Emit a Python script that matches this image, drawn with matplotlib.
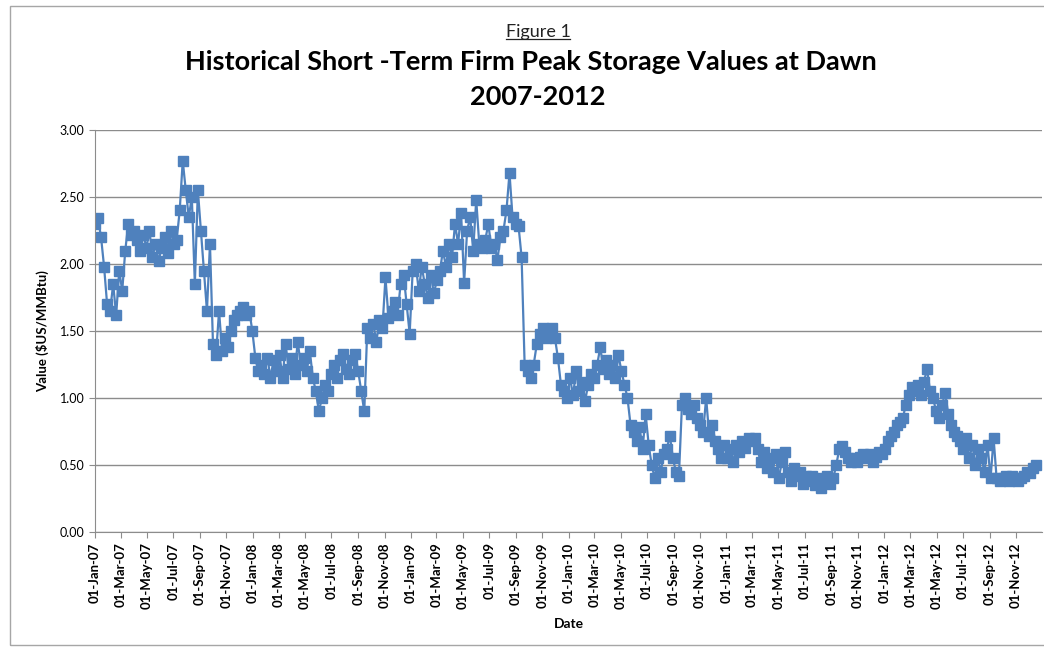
import matplotlib
matplotlib.use("Agg")
import matplotlib.pyplot as plt
import matplotlib.dates as mdates
from matplotlib.patches import Rectangle
from matplotlib.lines import Line2D
import pandas as pd

# weekly readings from 01-Jan-07, $US/MMBtu
vals_2007 = [2.30, 2.34, 2.20, 1.98, 1.70, 1.65, 1.85, 1.62, 1.95, 1.80,
             2.10, 2.30, 2.22, 2.25, 2.18, 2.10, 2.22, 2.12, 2.25, 2.05,
             2.15, 2.02, 2.12, 2.20, 2.08, 2.25, 2.15, 2.18, 2.40, 2.77,
             2.55, 2.35, 2.50, 1.85, 2.55, 2.25, 1.95, 1.65, 2.15, 1.40,
             1.32, 1.65, 1.35, 1.45, 1.38, 1.50, 1.58, 1.62, 1.65, 1.68,
             1.62, 1.65]
vals_2008 = [1.50, 1.30, 1.20, 1.25, 1.18, 1.30, 1.15, 1.28, 1.20, 1.32,
             1.15, 1.40, 1.22, 1.30, 1.18, 1.42, 1.25, 1.30, 1.20, 1.35,
             1.15, 1.05, 0.90, 1.00, 1.10, 1.05, 1.18, 1.25, 1.15, 1.28,
             1.33, 1.22, 1.18, 1.28, 1.33, 1.20, 1.05, 0.90, 1.52, 1.45,
             1.55, 1.42, 1.58, 1.52, 1.90, 1.60, 1.65, 1.72, 1.62, 1.85,
             1.92, 1.70]
vals_2009 = [1.48, 1.95, 2.00, 1.80, 1.98, 1.85, 1.75, 1.92, 1.78, 1.88,
             1.95, 2.10, 1.98, 2.15, 2.05, 2.30, 2.15, 2.38, 1.86, 2.25,
             2.35, 2.10, 2.48, 2.15, 2.12, 2.18, 2.30, 2.12, 2.15, 2.03,
             2.20, 2.25, 2.40, 2.68, 2.35, 2.30, 2.28, 2.05, 1.25, 1.20,
             1.15, 1.25, 1.40, 1.48, 1.52, 1.45, 1.50, 1.52, 1.45, 1.30,
             1.10, 1.05]
vals_2010 = [1.00, 1.15, 1.02, 1.20, 1.05, 1.12, 0.98, 1.10, 1.18, 1.15,
             1.25, 1.38, 1.22, 1.28, 1.18, 1.25, 1.15, 1.32, 1.20, 1.10,
             1.00, 0.80, 0.75, 0.68, 0.78, 0.62, 0.88, 0.65, 0.50, 0.40,
             0.55, 0.45, 0.58, 0.62, 0.72, 0.55, 0.45, 0.42, 0.95, 1.00,
             0.92, 0.88, 0.95, 0.85, 0.80, 0.75, 1.00, 0.72, 0.80, 0.68,
             0.62, 0.55]
vals_2011 = [0.65, 0.55, 0.62, 0.52, 0.65, 0.60, 0.68, 0.63, 0.70, 0.68,
             0.70, 0.62, 0.52, 0.60, 0.48, 0.55, 0.45, 0.58, 0.40, 0.52,
             0.60, 0.45, 0.38, 0.48, 0.42, 0.45, 0.36, 0.42, 0.38, 0.42,
             0.35, 0.40, 0.33, 0.38, 0.42, 0.36, 0.40, 0.50, 0.62, 0.64,
             0.60, 0.55, 0.52, 0.55, 0.52, 0.56, 0.58, 0.55, 0.58, 0.52,
             0.56, 0.60]
vals_2012 = [0.58, 0.62, 0.68, 0.72, 0.75, 0.80, 0.82, 0.85, 0.95, 1.02,
             1.08, 1.05, 1.10, 1.02, 1.12, 1.22, 1.05, 1.00, 0.90, 0.85,
             0.95, 1.04, 0.88, 0.80, 0.75, 0.72, 0.68, 0.62, 0.70, 0.55,
             0.65, 0.50, 0.62, 0.55, 0.45, 0.65, 0.40, 0.70, 0.40, 0.38,
             0.40, 0.42, 0.38, 0.42, 0.40, 0.38, 0.40, 0.42, 0.45, 0.44,
             0.48, 0.50]

values = vals_2007 + vals_2008 + vals_2009 + vals_2010 + vals_2011 + vals_2012
dates = pd.date_range("2007-01-01", periods=len(values), freq="7D")

blue = "#4F81BD"
grid_c = "#8C8C8C"
font = ["Lato", "DejaVu Sans"]

fig = plt.figure(figsize=(10.44, 6.48), dpi=100)
fig.patches.append(Rectangle((10 / 1044, 0.005), 1.2, 0.985, transform=fig.transFigure,
                             fill=False, edgecolor="#A6A6A6", linewidth=1))

ax = fig.add_axes([95 / 1044, 1 - 532 / 648, (1042 - 95) / 1044, (532 - 130) / 648])
ax.plot(dates, values, color=blue, linewidth=1.6, marker="s", markersize=6.5,
        markeredgecolor=blue, markerfacecolor=blue)

ax.set_ylim(0, 3.0)
ax.set_yticks([0, 0.5, 1.0, 1.5, 2.0, 2.5, 3.0])
ax.set_yticklabels([f"{v:.2f}" for v in ax.get_yticks()], fontsize=9, family=font)
ax.set_xlim(pd.Timestamp("2007-01-01"), pd.Timestamp("2012-12-31"))
ax.xaxis.set_major_locator(mdates.MonthLocator(bymonth=[1, 3, 5, 7, 9, 11]))
ax.xaxis.set_major_formatter(mdates.DateFormatter("%d-%b-%y"))
for lab in ax.get_xticklabels():
    lab.set_rotation(90)
    lab.set_fontsize(9.5)
    lab.set_fontweight("bold")
    lab.set_family(font)

ax.grid(axis="y", color=grid_c, linewidth=1)
ax.set_axisbelow(True)
for s in ["top", "right"]:
    ax.spines[s].set_visible(False)
for s in ["left", "bottom"]:
    ax.spines[s].set_color(grid_c)
ax.tick_params(axis="both", colors=grid_c, labelcolor="black", length=4)

ax.set_xlabel("Date", fontsize=10, fontweight="bold", family=font, labelpad=6)
ax.set_ylabel("Value ($US/MMBtu)", fontsize=9.5, fontweight="bold", family=font, labelpad=8)

# titles
t1 = fig.text(538 / 1044, 1 - 32 / 648, "Figure 1", ha="center", va="center",
              fontsize=13, family=font, color="#222222")
fig.text(531 / 1044, 1 - 62 / 648, "Historical Short -Term Firm Peak Storage Values at Dawn",
         ha="center", va="center", fontsize=19.5, fontweight="bold", family=font)
fig.text(538 / 1044, 1 - 97 / 648, "2007-2012", ha="center", va="center",
         fontsize=19.5, fontweight="bold", family=font)

fig.canvas.draw()
bb = t1.get_window_extent().transformed(fig.transFigure.inverted())
fig.lines.append(Line2D([bb.x0, bb.x1], [bb.y0 + 0.002, bb.y0 + 0.002],
                        transform=fig.transFigure, color="#222222", linewidth=0.9))

fig.savefig("out.png", dpi=100)
